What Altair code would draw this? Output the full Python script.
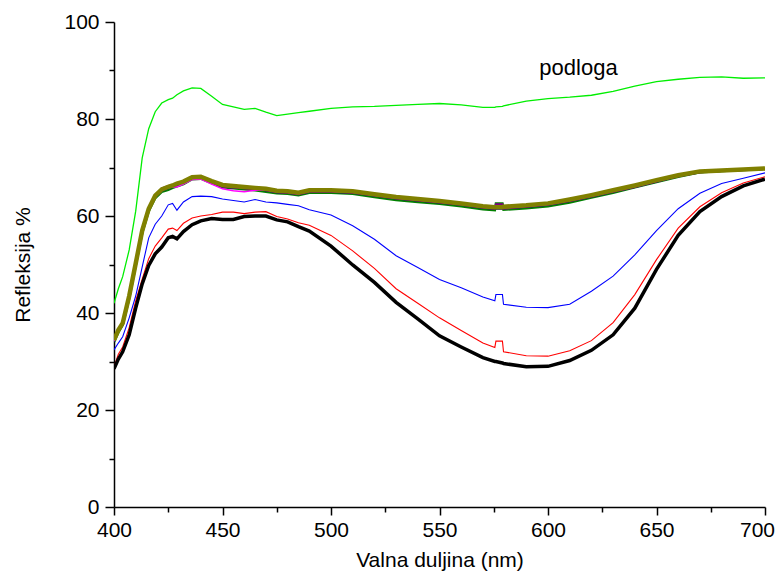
import altair as alt
import pandas as pd

wl = [400, 402, 404, 407, 410, 413, 416, 419, 422, 425, 427, 429, 432, 436, 440,
      445, 450, 455, 460, 465, 470, 475, 480, 485, 490, 500, 510, 520, 530, 540,
      550, 560, 570, 575.5, 576, 579, 579.5, 590, 600, 610, 620, 630, 640, 650,
      660, 670, 680, 690, 700]

podloga = [42.0, 45.0, 47.5, 53.0, 61.0, 72.0, 78.0, 81.5, 83.3, 84.0,
           84.3, 85.0, 85.8, 86.4, 86.3, 84.7, 83.0, 82.5, 82.0, 82.2,
           81.4, 80.7, 81.0, 81.3, 81.6, 82.2, 82.5, 82.6, 82.8, 83.0,
           83.2, 82.9, 82.4, 82.4, 82.5, 82.6, 82.7, 83.7, 84.2, 84.5,
           84.9, 85.7, 86.8, 87.7, 88.2, 88.6, 88.7, 88.4, 88.5]

olive = [34.4, 36.5, 37.9, 43.5, 50.2, 57.0, 61.5, 64.2, 65.5, 66.0,
         66.3, 66.7, 67.1, 68.0, 68.1, 67.2, 66.4, 66.2, 66.0, 65.8,
         65.6, 65.2, 65.1, 64.8, 65.3, 65.3, 65.1, 64.5, 63.9, 63.5,
         63.1, 62.6, 62.0, 61.8, 61.8, 61.8, 61.9, 62.2, 62.6, 63.4,
         64.3, 65.3, 66.3, 67.4, 68.4, 69.2, 69.4, 69.6, 69.8]

darkgreen = [34.0, 36.0, 37.5, 43.0, 49.8, 56.5, 61.0, 63.7, 65.0, 65.4,
             65.8, 66.1, 66.6, 67.6, 67.7, 66.8, 65.9, 65.7, 65.5, 65.3,
             65.0, 64.7, 64.6, 64.3, 64.8, 64.8, 64.6, 63.9, 63.3, 62.9,
             62.5, 62.0, 61.4, 61.2, 62.6, 62.6, 61.3, 61.6, 62.0, 62.8,
             63.8, 64.8, 65.9, 67.0, 68.1, 69.0, 69.3, 69.5, 69.7]

purple = [34.2, 36.3, 37.7, 43.3, 50.0, 56.8, 61.3, 64.0, 65.7, 66.2,
          66.4, 66.5, 67.0, 67.8, 67.9, 67.0, 66.1, 65.9, 65.7, 65.5,
          65.3, 64.9, 64.8, 64.5, 65.0, 65.0, 64.8, 64.2, 63.6, 63.2,
          62.8, 62.3, 61.7, 61.5, 62.4, 62.4, 61.5, 61.9, 62.3, 63.1,
          64.0, 65.0, 66.0, 67.1, 68.2, 69.0, 69.3, 69.5, 69.7]

magenta = [34.3, 36.4, 37.8, 43.4, 50.1, 56.9, 61.4, 64.1, 65.4, 65.8,
           66.0, 66.0, 66.6, 67.5, 67.6, 66.6, 65.6, 65.2, 65.0, 65.3,
           65.4, 65.0, 64.9, 64.6, 65.1, 65.1, 64.9, 64.3, 63.7, 63.3,
           62.9, 62.4, 61.8, 61.6, 61.6, 61.6, 61.7, 62.0, 62.4, 63.2,
           64.1, 65.1, 66.1, 67.2, 68.3, 69.1, 69.3, 69.5, 69.7]

navy = [34.1, 36.2, 37.6, 43.2, 49.9, 56.7, 61.2, 63.9, 65.2, 65.7,
        66.0, 66.4, 66.8, 67.7, 67.8, 66.9, 66.1, 65.9, 65.7, 65.5,
        65.3, 64.9, 64.8, 64.5, 65.0, 65.0, 64.8, 64.2, 63.6, 63.2,
        62.8, 62.3, 61.7, 61.5, 61.5, 61.5, 61.6, 61.9, 62.3, 63.1,
        64.0, 65.0, 66.0, 67.1, 68.2, 69.0, 69.3, 69.5, 69.7]

blue = [32.4, 33.8, 35.1, 39.0, 43.5, 49.5, 55.5, 58.3, 60.0, 62.3,
        62.6, 61.2, 62.9, 64.0, 64.1, 64.0, 63.5, 63.2, 62.9, 63.4,
        62.9, 62.7, 62.4, 62.1, 61.3, 60.2, 58.0, 55.2, 51.8, 49.4,
        46.9, 45.2, 43.3, 42.5, 43.8, 43.8, 41.8, 41.2, 41.1, 41.8,
        44.5, 47.6, 52.0, 57.0, 61.5, 64.7, 66.7, 67.8, 68.9]

red = [28.9, 31.5, 33.0, 37.0, 42.5, 47.0, 51.2, 53.8, 55.5, 57.3,
       57.5, 57.0, 58.5, 59.6, 60.0, 60.3, 60.8, 60.8, 60.5, 60.8,
       60.9, 59.9, 59.4, 58.6, 58.1, 56.0, 52.8, 49.2, 45.0, 42.0,
       39.0, 36.4, 33.8, 32.9, 34.2, 34.2, 32.0, 31.2, 31.1, 32.2,
       34.3, 38.0, 43.8, 51.0, 57.5, 61.9, 64.8, 66.8, 68.1]

black = [28.5, 30.5, 32.0, 35.5, 41.0, 46.0, 49.8, 52.2, 53.6, 55.5,
         55.8, 55.3, 56.8, 58.2, 59.0, 59.5, 59.3, 59.3, 59.9, 60.0,
         60.0, 59.2, 58.8, 57.8, 56.9, 53.8, 49.9, 46.3, 42.2, 38.8,
         35.3, 33.0, 30.8, 30.0, 30.0, 29.7, 29.6, 28.9, 29.0, 30.2,
         32.3, 35.5, 41.0, 49.0, 56.0, 60.9, 64.0, 66.2, 67.6]

label_text = ["podloga"]
label_wl = [596]
label_r = [90.5]

FONT = "Liberation Sans"

series = [
    (podloga, "#00ee00", 1.3),
    (darkgreen, "#008000", 2.5),
    (navy, "#000080", 2.0),
    (purple, "#800080", 2.0),
    (magenta, "#ff00ff", 1.5),
    (olive, "#808000", 4.5),
    (blue, "#0000ff", 1.1),
    (red, "#ff0000", 1.1),
    (black, "#000000", 3.5),
]

x_enc = alt.X(
    "wl:Q",
    scale=alt.Scale(domain=[400, 700], nice=False, zero=False),
    axis=alt.Axis(
        title="Valna duljina (nm)",
        values=list(range(400, 701, 25)),
        labelExpr="datum.value % 50 === 0 ? datum.label : ''",
        tickSize={"condition": {"test": "datum.value % 50 === 0", "value": 8}, "value": 5},
        labelOffset={"condition": {"test": "datum.value === 700", "value": -8}, "value": 0},
        grid=False,
        domainColor="black", domainWidth=1.5,
        tickColor="black", tickWidth=1.5,
        labelFont=FONT, labelFontSize=21, labelColor="black", labelPadding=4,
        labelFlush=False,
        titleFont=FONT, titleFontSize=21, titleFontWeight="normal", titleColor="black",
        titlePadding=9,
    ),
)
y_enc = alt.Y(
    "R:Q",
    scale=alt.Scale(domain=[0, 100], nice=False, zero=False),
    axis=alt.Axis(
        title="Refleksija %",
        values=list(range(0, 101, 10)),
        labelExpr="datum.value % 20 === 0 ? datum.label : ''",
        tickSize={"condition": {"test": "datum.value % 20 === 0", "value": 9}, "value": 5},
        grid=False,
        domainColor="black", domainWidth=1.5,
        tickColor="black", tickWidth=1.5,
        labelFont=FONT, labelFontSize=21, labelColor="black", labelPadding=6,
        labelFlush=False,
        titleFont=FONT, titleFontSize=21, titleFontWeight="normal", titleColor="black",
        titlePadding=30,
    ),
)

layers = []
for vals, col, w in series:
    df = pd.DataFrame({"wl": wl, "R": vals})
    layers.append(
        alt.Chart(df).mark_line(color=col, strokeWidth=w, clip=True).encode(x=x_enc, y=y_enc)
    )

lab = pd.DataFrame({"wl": label_wl, "R": label_r, "t": label_text})
layers.append(
    alt.Chart(lab).mark_text(align="left", baseline="middle", font=FONT, fontSize=22, color="black")
    .encode(x=x_enc, y=y_enc, text="t:N")
)

chart = (
    alt.layer(*layers)
    .properties(
        width=651,
        height=485,
        autosize=alt.AutoSizeParams(type="none"),
        padding={"left": 106, "top": 14, "right": 10, "bottom": 65},
        background="white",
    )
    .configure_view(strokeWidth=0)
)

chart.save("out.html", embed_options={"renderer": "svg", "actions": False})
